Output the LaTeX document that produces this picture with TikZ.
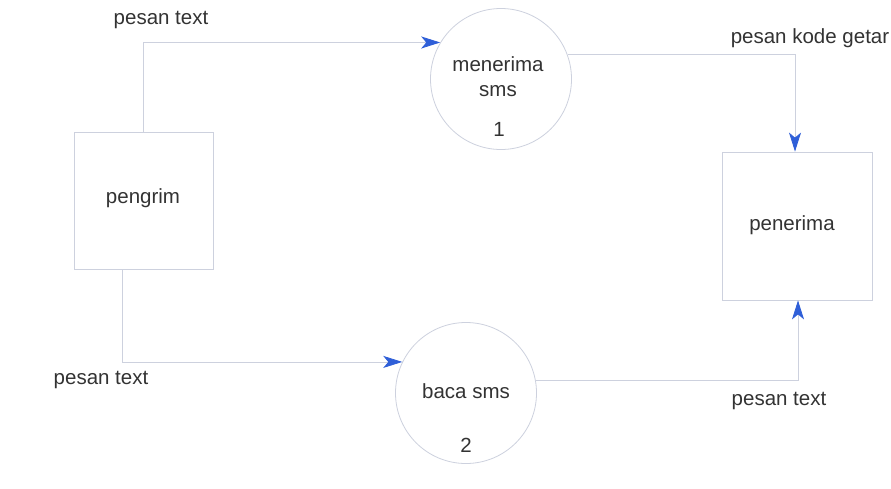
\documentclass[tikz,border=0pt]{standalone}
\usepackage{fontspec}
\setmainfont{Liberation Sans}
\usetikzlibrary{arrows.meta}
\definecolor{edgecol}{HTML}{CDD1DE}
\definecolor{tipcol}{HTML}{2F5FD8}
\definecolor{txtcol}{HTML}{333333}
\begin{document}
\begin{tikzpicture}[x=1pt,y=-1pt,
  every node/.style={font=\fontsize{20.5}{24}\selectfont,text=txtcol},
  entity/.style={draw=edgecol,line width=0.8pt,minimum width=139pt,minimum height=137pt,inner sep=0pt},
  proc/.style={draw=edgecol,line width=0.8pt,circle,minimum size=141pt,inner sep=0pt},
  flow/.style={draw=edgecol,line width=0.8pt,-{Stealth[length=19pt,width=12pt,inset=5pt,color=tipcol]}},
  lbl/.style={inner sep=0pt}]
\useasboundingbox (0,0) rectangle (891,488);
\fill[white] (0,0) rectangle (891,488);
\node[entity] (pengrim) at (143.5,200.5) {};
\node[lbl] (pengrimT) at (143,198) {pengrim};
\node[entity,minimum width=150pt,minimum height=148pt] (penerima) at (797.5,226) {};
\node[lbl] (penerimaT) at (792,225) {penerima};
\node[proc] (p1) at (501,79) {};
\node[lbl] (p1a) at (498,64) {menerima};
\node[lbl] (p1b) at (498,91) {sms};
\node[lbl] (p1c) at (499,129) {1};
\node[proc] (p2) at (466,393) {};
\node[lbl] (p2a) at (466,391) {baca sms};
\node[lbl] (p2c) at (466,445) {2};
\coordinate (c1) at (143,43);
\coordinate (c2) at (795,55);
\coordinate (c3) at (122,362);
\coordinate (c4) at (798,381);
\draw[flow] (pengrim.north -| c1) |- (p1.149);
\draw[flow] (p1.20) -| (penerima.north -| c2);
\draw[flow] (pengrim.south -| c3) |- (p2.154);
\draw[flow] (p2.10) -| (penerima.south -| c4);
\node[lbl] (l1) at (161,20) {pesan text};
\node[lbl] (l2) at (810,38) {pesan kode getar};
\node[lbl] (l3) at (101,380) {pesan text};
\node[lbl] (l4) at (779,401) {pesan text};
\end{tikzpicture}
\end{document}
